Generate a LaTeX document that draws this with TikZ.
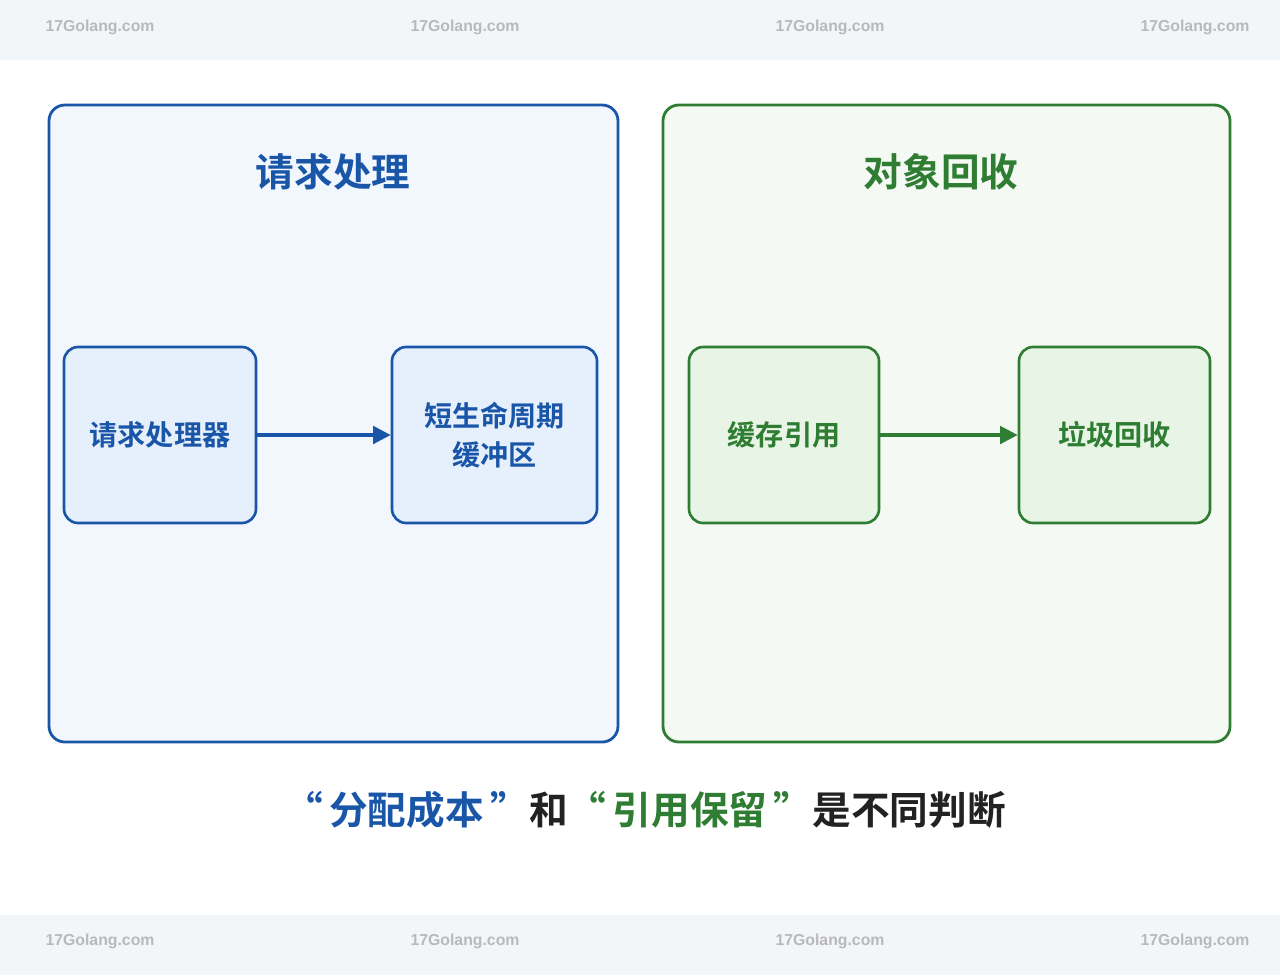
\documentclass[tikz,border=0pt]{standalone}
\usepackage{fontspec}
\newfontfamily\cjk{Noto Sans CJK SC}[BoldFont={Noto Sans CJK SC Bold}]
\newfontfamily\wmfont{Liberation Sans}
\usetikzlibrary{positioning}
\usetikzlibrary{arrows.meta}
\definecolor{reqblue}{HTML}{1A56A8}
\definecolor{reqfill}{HTML}{F2F7FE}
\definecolor{boxblue}{HTML}{E6F0FC}
\definecolor{gcgreen}{HTML}{2E7D32}
\definecolor{gcfill}{HTML}{F4FAF3}
\definecolor{boxgreen}{HTML}{E8F4E6}
\definecolor{darktext}{HTML}{222222}
\definecolor{bandgray}{HTML}{F3F6F9}
\tikzset{
  panel/.style={draw,line width=1.6pt,rounded corners=9pt},
  stage/.style={draw,line width=1.5pt,rounded corners=8pt,align=center,
    font=\cjk\bfseries\fontsize{16}{22}\selectfont},
  flow/.style={line width=1.8pt,-{Triangle[length=10pt,width=10pt]}},
  wmark/.style={text=gray!55,font=\wmfont\bfseries\fontsize{9}{10}\selectfont}
}
\begin{document}
\begin{tikzpicture}[x=0.02cm,y=-0.02cm]
      \useasboundingbox (0,0) rectangle (1280,975);
      \fill[white] (0,0) rectangle (1280,975);
      \fill[bandgray] (0,0) rectangle (1280,60);
      \fill[bandgray] (0,915) rectangle (1280,975);
      \foreach \x in {100,465,830,1195} {
        \node[wmark] at (\x,27) {17Golang.com};
        \node[wmark] at (\x,941) {17Golang.com};
      }

      % left panel
      \draw[panel,draw=reqblue,fill=reqfill] (49,105) rectangle (618,742);
      \node[text=reqblue,font=\cjk\bfseries\fontsize{22}{26}\selectfont] (reqtitle) at (333,172) {请求处理};
      \node[stage,draw=reqblue,fill=boxblue,text=reqblue,minimum width=192*0.02cm,minimum height=176*0.02cm] (handler) at (160,435) {请求处理器};
      \node[stage,draw=reqblue,fill=boxblue,text=reqblue,minimum width=205*0.02cm,minimum height=176*0.02cm] (buffer) at (494.5,435) {短生命周期\\缓冲区};
      \draw[flow,reqblue] (handler.east) -- (buffer.west);

      % right panel
      \draw[panel,draw=gcgreen,fill=gcfill] (663,105) rectangle (1230,742);
      \node[text=gcgreen,font=\cjk\bfseries\fontsize{22}{26}\selectfont] (gctitle) at (941,172) {对象回收};
      \node[stage,draw=gcgreen,fill=boxgreen,text=gcgreen,minimum width=190*0.02cm,minimum height=176*0.02cm] (cacheref) at (784,435) {缓存引用};
      \node[stage,draw=gcgreen,fill=boxgreen,text=gcgreen,minimum width=191*0.02cm,minimum height=176*0.02cm] (collect) at (1114.5,435) {垃圾回收};
      \draw[flow,gcgreen] (cacheref.east) -- (collect.west);

      \node[font=\cjk\bfseries\fontsize{22}{26}\selectfont,text=darktext] (caption) at (645,810)
        {\textcolor{reqblue}{“\,分配成本\,”}和\textcolor{gcgreen}{“\,引用保留\,”}是不同判断};
\end{tikzpicture}
\end{document}
